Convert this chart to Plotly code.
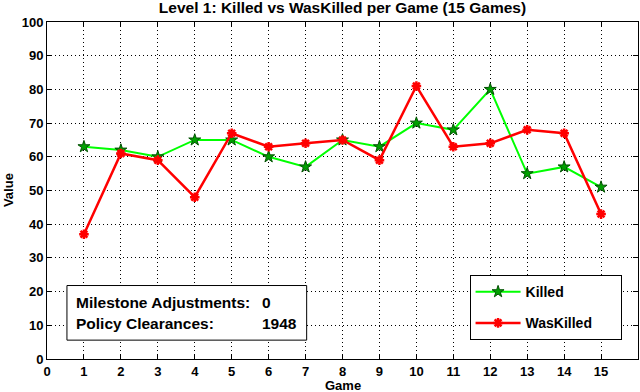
import plotly.graph_objects as go

### Data ###
games = list(range(1, 16))
killed = [63, 62, 60, 65, 65, 60, 57, 65, 63, 70, 68, 80, 55, 57, 51]
was_killed = [37, 61, 59, 48, 67, 63, 64, 65, 59, 81, 63, 64, 68, 67, 43]
x_ticks = list(range(0, 16))
y_ticks = list(range(0, 101, 10))
info_labels = ['Milestone Adjustments:', 'Policy Clearances:']
info_values = ['0', '1948']

FONT = 'Liberation Sans, Arial, sans-serif'
PAD = '&nbsp;' * 6

fig = go.Figure()
fig.add_trace(go.Scatter(x=games, y=killed, name='<b>Killed</b>' + PAD, mode='lines+markers',
                         line=dict(color='#00ff00', width=2),
                         marker=dict(symbol='star', size=9, color='#00a000',
                                     line=dict(color='#005000', width=1)),
                         legendgroup='a'))
fig.add_trace(go.Scatter(x=games, y=was_killed, name='<b>WasKilled</b>' + PAD, mode='lines+markers',
                         line=dict(color='#ff0000', width=2.5),
                         marker=dict(symbol='asterisk-open', size=8, color='#ff0000',
                                     line=dict(color='#ff0000', width=2.5)),
                         legendgroup='b'))

axis_common = dict(showgrid=True, gridcolor='black', griddash='1px,3px', gridwidth=1,
                   showline=True, linecolor='black', linewidth=1, mirror='ticks',
                   ticks='inside', ticklen=5, tickcolor='black', zeroline=False,
                   automargin=False,
                   tickfont=dict(family=FONT, size=13, color='black'))

fig.update_layout(
    width=640, height=392,
    margin=dict(l=47, r=2, t=22, b=33),
    paper_bgcolor='white', plot_bgcolor='white',
    font=dict(family=FONT, color='black'),
    title=dict(text='<b>Level 1: Killed vs WasKilled per Game (15 Games)</b>',
               xref='paper', x=0.5, xanchor='center', yref='container', y=0.981, yanchor='middle',
               pad=dict(t=0, b=0),
               font=dict(size=15.5, family=FONT, color='black')),
    xaxis=dict(range=[0, 16], tickvals=x_ticks,
               ticktext=[f'<b>{t}</b>' for t in x_ticks], **axis_common),
    yaxis=dict(range=[0, 100], tickvals=y_ticks,
               ticktext=[f'<b>{t}</b>' for t in y_ticks], **axis_common),
    legend=dict(x=0.715, y=0.249, xanchor='left', yanchor='top',
                bordercolor='black', borderwidth=1, bgcolor='white',
                font=dict(size=14, family=FONT), tracegroupgap=10,
                itemwidth=45),
)

# axis titles
fig.add_annotation(x=0.5, y=-0.08, xref='paper', yref='paper', text='<b>Game</b>',
                   showarrow=False, xanchor='center', yanchor='middle',
                   font=dict(size=13, family=FONT, color='black'))
fig.add_annotation(x=-0.065, y=0.5, xref='paper', yref='paper', text='<b>Value</b>',
                   textangle=-90, showarrow=False, xanchor='center', yanchor='middle',
                   font=dict(size=13, family=FONT, color='black'))

# info box
fig.add_shape(type='rect', xref='x', yref='y', x0=0.54, x1=7.03, y0=5.6, y1=21.8,
              line=dict(color='black', width=1), fillcolor='white', layer='above')
for i, (lab, val) in enumerate(zip(info_labels, info_values)):
    yy = [16.9, 10.6][i]
    fig.add_annotation(x=0.73, y=yy, xref='x', yref='y', text=f'<b>{lab}</b>',
                       showarrow=False, xanchor='left', yanchor='middle',
                       font=dict(size=15.5, family=FONT, color='black'))
    fig.add_annotation(x=5.76, y=yy, xref='x', yref='y', text=f'<b>{val}</b>',
                       showarrow=False, xanchor='left', yanchor='middle',
                       font=dict(size=15.5, family=FONT, color='black'))

# the page body has a default 8px margin; drop it so the figure sits at the window corner
fig.write_html('out.html', config={'displayModeBar': False},
               post_script="document.body.style.margin='0';")
